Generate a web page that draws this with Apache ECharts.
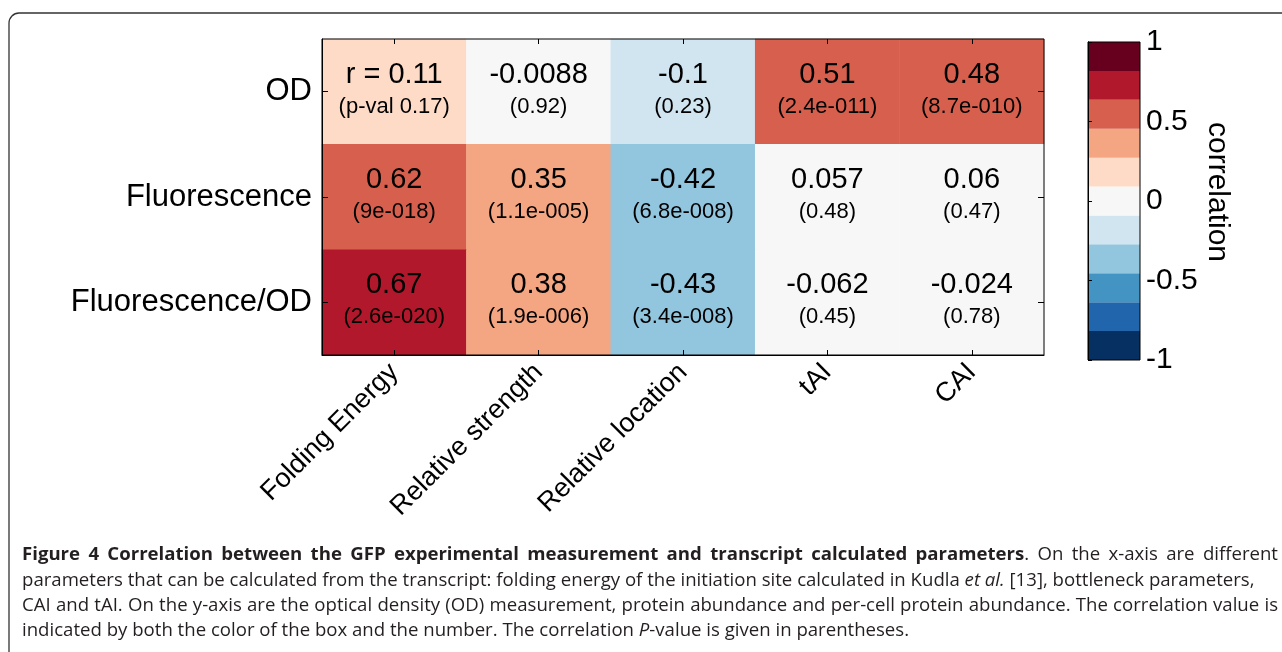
<!DOCTYPE html>
<html>
<head>
<meta charset="utf-8">
<script src="https://cdn.jsdelivr.net/npm/echarts@6/dist/echarts.min.js"></script>
<style>
html,body{margin:0;padding:0;background:#fff;}
#c{width:1282px;height:652px;}
</style>
</head>
<body>
<div id="c"></div>
<script>
const rowLabels = ['OD', 'Fluorescence', 'Fluorescence/OD'];
const colLabels = ['Folding Energy', 'Relative strength', 'Relative location', 'tAI', 'CAI'];
const rOD = [0.11, -0.0088, -0.1, 0.51, 0.48];
const rFluor = [0.62, 0.35, -0.42, 0.057, 0.06];
const rFluorOD = [0.67, 0.38, -0.43, -0.062, -0.024];
const pOD = ['p-val 0.17', '0.92', '0.23', '2.4e-011', '8.7e-010'];
const pFluor = ['9e-018', '1.1e-005', '6.8e-008', '0.48', '0.47'];
const pFluorOD = ['2.6e-020', '1.9e-006', '3.4e-008', '0.45', '0.78'];
const bandColors = ['#053061', '#2166ac', '#4393c3', '#92c5de', '#d1e5f0', '#f7f7f7',
                    '#fddbc7', '#f4a582', '#d6604d', '#b2182b', '#67001f'];
const captionLines = [
  '{b|Figure 4 Correlation between the GFP experimental measurement and transcript calculated parameters}. On the x-axis are different',
  'parameters that can be calculated from the transcript: folding energy of the initiation site calculated in Kudla {i|et al.} [13], bottleneck parameters,',
  'CAI and tAI. On the y-axis are the optical density (OD) measurement, protein abundance and per-cell protein abundance. The correlation value is',
  'indicated by both the color of the box and the number. The correlation {i|P}-value is given in parentheses.'
];
const captionJustify = [true, false, true, false];

const rRows = [rOD, rFluor, rFluorOD];
const pRows = [pOD, pFluor, pFluorOD];
const heatData = [];
rRows.forEach((row, i) => row.forEach((v, j) => heatData.push([j, i, v])));

const nBands = bandColors.length;
const step = 2 / nBands;
const pieces = bandColors.map((c, k) => {
  const p = { gte: -1 + k * step, color: c };
  if (k < nBands - 1) p.lt = -1 + (k + 1) * step; else p.lte = 1;
  return p;
});

const FONT = "'Liberation Sans', Arial, sans-serif";
const CAP_FONT = "'Open Sans', sans-serif";
const CAP_COLOR = '#231f20';

// ---- caption layout (justified lines) ----
const mctx = document.createElement('canvas').getContext('2d');
function fontStr(kind, size) {
  return (kind === 'i' ? 'italic ' : 'normal ') + (kind === 'b' ? 'bold ' : 'normal ') + size + 'px ' + CAP_FONT;
}
function measure(text, kind, size) { mctx.font = fontStr(kind, size); return mctx.measureText(text).width; }
function parseLine(line) {
  const re = /\{(b|i)\|([^}]*)\}|([^{]+)/g;
  const words = [];
  let cur = null, m;
  while ((m = re.exec(line)) !== null) {
    const kind = m[1] || 'n';
    const text = m[1] ? m[2] : m[3];
    const parts = text.split(' ');
    parts.forEach((part, idx) => {
      if (idx > 0 || cur === null) { cur = []; words.push(cur); }
      if (part.length) cur.push({ t: part, k: kind });
    });
  }
  return words.filter(w => w.length);
}
const parsed = captionLines.map(parseLine);
function lineWidth(words, size) {
  let w = 0;
  words.forEach(wd => wd.forEach(pc => { w += measure(pc.t, pc.k, size); }));
  return w + (words.length - 1) * measure(' ', 'n', size);
}
// size chosen so the unjustified second line spans as in the figure
const capSize = Math.min(19, 16 * 1233 / lineWidth(parsed[1], 16));
const capLeft = 22, capRight = 1278;
const graphics = [{
  type: 'rect', z: -10,
  shape: { x: 9, y: 13, width: 1300, height: 700, r: 10 },
  style: { fill: 'none', stroke: '#333', lineWidth: 1.3 }
}];
parsed.forEach((words, li) => {
  const wordW = words.map(wd => wd.reduce((s, pc) => s + measure(pc.t, pc.k, capSize), 0));
  const total = wordW.reduce((a, b) => a + b, 0);
  const space = measure(' ', 'n', capSize);
  let gap = captionJustify[li] ? (capRight - capLeft - total) / (words.length - 1) : space;
  if (gap < space * 0.8) gap = space * 0.8;
  let x = capLeft;
  const y = 555 + li * 25.4;
  words.forEach((wd, wi) => {
    let px = x;
    wd.forEach(pc => {
      graphics.push({
        type: 'text', x: px, y: y,
        style: {
          text: pc.t, fill: CAP_COLOR, fontFamily: CAP_FONT, fontSize: capSize,
          fontWeight: pc.k === 'b' ? 'bold' : 'normal', fontStyle: pc.k === 'i' ? 'italic' : 'normal',
          verticalAlign: 'middle', align: 'left'
        }
      });
      px += measure(pc.t, pc.k, capSize);
    });
    x += wordW[wi] + gap;
  });
});

const chart = echarts.init(document.getElementById('c'));
const tickStyle = { color: '#000', width: 1 };
chart.setOption({
  animation: false,
  backgroundColor: '#fff',
  grid: [
    { left: 322, top: 39, width: 722, height: 316, show: true, borderColor: '#000', borderWidth: 1, backgroundColor: 'transparent', z: 5 },
    { left: 1088, top: 42, width: 52, height: 318, show: true, borderColor: '#000', borderWidth: 1, backgroundColor: 'transparent', z: 5 }
  ],
  xAxis: [
    { type: 'category', gridIndex: 0, data: colLabels, position: 'bottom',
      axisLine: { show: true, lineStyle: { color: '#000' } },
      axisTick: { show: true, inside: true, alignWithLabel: true, length: 5, lineStyle: tickStyle },
      axisLabel: { rotate: 45, margin: 13, fontSize: 27, color: '#000', fontFamily: FONT },
      splitLine: { show: false }, z: 10 },
    { type: 'category', gridIndex: 0, data: colLabels, position: 'top',
      axisLine: { show: false },
      axisTick: { show: true, inside: true, alignWithLabel: true, length: 5, lineStyle: tickStyle },
      axisLabel: { show: false }, splitLine: { show: false }, z: 10 },
    { type: 'value', gridIndex: 1, min: 0, max: 1, show: false }
  ],
  yAxis: [
    { type: 'category', gridIndex: 0, data: rowLabels, inverse: true, position: 'left',
      axisLine: { show: true, lineStyle: { color: '#000' } },
      axisTick: { show: true, inside: true, alignWithLabel: true, length: 6, lineStyle: tickStyle },
      axisLabel: { margin: 10, fontSize: 31, color: '#000', fontFamily: FONT },
      splitLine: { show: false }, z: 10 },
    { type: 'category', gridIndex: 0, data: rowLabels, inverse: true, position: 'right',
      axisLine: { show: false },
      axisTick: { show: true, inside: true, alignWithLabel: true, length: 6, lineStyle: tickStyle },
      axisLabel: { show: false }, splitLine: { show: false }, z: 10 },
    { type: 'value', gridIndex: 1, min: -1, max: 1, interval: 0.5, position: 'right',
      axisLine: { show: true, lineStyle: { color: '#000' } },
      axisTick: { show: true, inside: false, length: 4, lineStyle: tickStyle },
      axisLabel: { margin: 6, fontSize: 30, color: '#000', fontFamily: FONT },
      splitLine: { show: false },
      name: 'correlation', nameLocation: 'middle', nameRotate: -90, nameGap: 62,
      nameTextStyle: { fontSize: 30, color: '#000', fontFamily: FONT, padding: [0, 18, 0, 0] }, z: 10 },
    { type: 'value', gridIndex: 1, min: -1, max: 1, interval: 0.5, position: 'left',
      axisLine: { show: true, lineStyle: { color: '#000' } },
      axisTick: { show: true, inside: true, length: 4, lineStyle: tickStyle },
      axisLabel: { show: false }, splitLine: { show: false }, z: 10 }
  ],
  visualMap: {
    type: 'piecewise', show: false, seriesIndex: 0, dimension: 2, pieces: pieces
  },
  series: [
    {
      type: 'heatmap', xAxisIndex: 0, yAxisIndex: 0, data: heatData,
      label: {
        show: true, color: '#000', fontFamily: FONT,
        formatter: (p) => {
          const j = p.value[0], i = p.value[1];
          const r = (i === 0 && j === 0 ? 'r = ' : '') + String(p.value[2]);
          return '{a|' + r + '}\n{b|(' + pRows[i][j] + ')}';
        },
        rich: {
          a: { fontSize: 29, lineHeight: 30, color: '#000', fontFamily: FONT },
          b: { fontSize: 22, lineHeight: 34, color: '#000', fontFamily: FONT }
        }
      },
      emphasis: { disabled: true }
    },
    {
      type: 'custom', xAxisIndex: 2, yAxisIndex: 2,
      data: bandColors.map((c, k) => [k]),
      renderItem: (params, api) => {
        const k = api.value(0);
        const lo = -1 + k * step, hi = lo + step;
        const p0 = api.coord([0, hi]);
        const p1 = api.coord([1, lo]);
        return {
          type: 'rect',
          shape: { x: p0[0], y: p0[1], width: p1[0] - p0[0], height: p1[1] - p0[1] },
          style: { fill: bandColors[k] }
        };
      },
      silent: true
    }
  ],
  graphic: graphics
});
</script>
</body>
</html>
